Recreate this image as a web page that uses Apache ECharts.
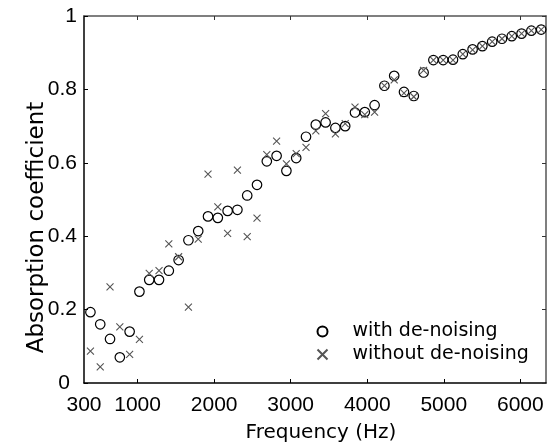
<!DOCTYPE html>
<html><head><meta charset="utf-8">
<script src="https://cdn.jsdelivr.net/npm/echarts@6/dist/echarts.min.js"></script>
<style>html,body{margin:0;padding:0;background:#fff}#c{width:547px;height:443px}</style>
</head><body><div id="c"></div>
<script>
const frequencies = [384, 512, 640, 768, 896, 1024, 1152, 1280, 1408, 1536, 1664, 1792, 1920, 2048, 2176, 2304, 2432, 2560, 2688, 2816, 2944, 3072, 3200, 3328, 3456, 3584, 3712, 3840, 3968, 4096, 4224, 4352, 4480, 4608, 4736, 4864, 4992, 5120, 5248, 5376, 5504, 5632, 5760, 5888, 6016, 6144, 6272];
const withDenoising = [0.193, 0.160, 0.120, 0.070, 0.140, 0.249, 0.281, 0.281, 0.306, 0.335, 0.389, 0.414, 0.454, 0.450, 0.469, 0.472, 0.511, 0.540, 0.604, 0.619, 0.578, 0.613, 0.671, 0.704, 0.710, 0.695, 0.700, 0.737, 0.738, 0.757, 0.810, 0.837, 0.793, 0.782, 0.846, 0.880, 0.880, 0.881, 0.896, 0.909, 0.918, 0.930, 0.938, 0.945, 0.952, 0.960, 0.963];
const withoutDenoising = [0.087, 0.044, 0.262, 0.153, 0.078, 0.119, 0.299, 0.306, 0.379, 0.344, 0.207, 0.392, 0.569, 0.480, 0.408, 0.580, 0.399, 0.449, 0.622, 0.659, 0.597, 0.625, 0.642, 0.687, 0.734, 0.679, 0.707, 0.752, 0.731, 0.738, 0.810, 0.826, 0.790, 0.780, 0.852, 0.880, 0.880, 0.880, 0.896, 0.908, 0.918, 0.930, 0.938, 0.945, 0.952, 0.960, 0.963];
const xLabelValues = [300, 1000, 2000, 3000, 4000, 5000, 6000];
const xTickValues = [1000, 2000, 3000, 4000, 5000, 6000];
const seriesNames = ['with de-noising', 'without de-noising'];
const xTitle = 'Frequency (Hz)';
const yTitle = 'Absorption coefficient';

const X_MIN = 300, X_MAX = 6335;
const tickFont = 'Liberation Sans, Arial, sans-serif';
const titleFont = 'DejaVu Sans, sans-serif';

const chart = echarts.init(document.getElementById('c'), null, {renderer: 'canvas'});
chart.setOption({
  animation: false,
  backgroundColor: '#fff',
  grid: {left: 84, right: 1, top: 16, bottom: 60, containLabel: false, outerBoundsMode: 'none'},
  legend: {
    orient: 'vertical', left: 310, top: 317,
    itemWidth: 50, itemHeight: 10, itemGap: 4,
    textStyle: {fontFamily: titleFont, fontSize: 19, color: '#000'},
    data: seriesNames
  },
  xAxis: [{
    type: 'value', min: X_MIN, max: X_MAX, position: 'bottom',
    splitLine: {show: false},
    axisLine: {onZero: false, lineStyle: {color: '#000', width: 1.5}},
    axisTick: {inside: true, length: 4, customValues: xTickValues, lineStyle: {color: '#000'}},
    axisLabel: {customValues: xLabelValues, margin: 12, color: '#000', fontFamily: tickFont, fontSize: 21,
      formatter: function (v) { return String(v); }},
    name: xTitle, nameLocation: 'middle', nameGap: 40, nameMoveOverlap: false,
    nameTextStyle: {fontFamily: titleFont, fontSize: 20, color: '#000', padding: [0, 0, 0, 12]}
  }, {
    type: 'value', min: X_MIN, max: X_MAX, position: 'top',
    splitLine: {show: false},
    axisLine: {onZero: false, lineStyle: {color: '#555', width: 1.5}},
    axisTick: {inside: true, length: 4, customValues: xTickValues, lineStyle: {color: '#333'}},
    axisLabel: {show: false}
  }],
  yAxis: [{
    type: 'value', min: 0, max: 1, interval: 0.2, position: 'left',
    splitLine: {show: false},
    axisLine: {show: true, onZero: false, lineStyle: {color: '#000', width: 1.5}},
    axisTick: {show: true, inside: true, length: 4, lineStyle: {color: '#000'}},
    axisLabel: {
      margin: 7, color: '#000', fontFamily: tickFont, fontSize: 21,
      formatter: function (v) { return v === 0 ? '{z|0}' : String(+v.toFixed(1)); },
      rich: {z: {fontFamily: tickFont, fontSize: 21, color: '#000', padding: [0, 7, 0, 0]}}
    },
    name: yTitle, nameLocation: 'middle', nameGap: 35, nameMoveOverlap: false,
    nameTextStyle: {fontFamily: titleFont, fontSize: 23, color: '#000', padding: [0, 56, 0, 0]}
  }, {
    type: 'value', min: 0, max: 1, interval: 0.2, position: 'right',
    splitLine: {show: false},
    axisLine: {show: true, onZero: false, lineStyle: {color: '#555', width: 1.5}},
    axisTick: {show: true, inside: true, length: 4, lineStyle: {color: '#333'}},
    axisLabel: {show: false}
  }],
  series: [{
    name: seriesNames[0], type: 'scatter', xAxisIndex: 0, yAxisIndex: 0,
    symbol: 'circle', symbolSize: 9.5,
    itemStyle: {color: 'rgba(255,255,255,0)', borderColor: '#000', borderWidth: 1.2, opacity: 1},
    data: frequencies.map((f, i) => [f, withDenoising[i]])
  }, {
    name: seriesNames[1], type: 'scatter', xAxisIndex: 0, yAxisIndex: 0,
    symbol: 'path://M0,0L10,10M10,0L0,10', symbolSize: 7,
    itemStyle: {color: 'none', borderColor: '#555', borderWidth: 1.1, opacity: 1},
    data: frequencies.map((f, i) => [f, withoutDenoising[i]])
  }]
});
</script></body></html>
